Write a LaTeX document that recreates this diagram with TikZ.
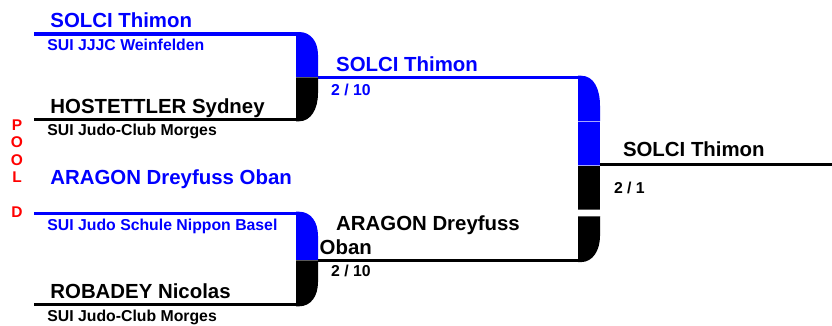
\documentclass[tikz,border=0pt]{standalone}
\usepackage{fontspec}
\setmainfont{Liberation Sans}
\usetikzlibrary{positioning}

\begin{document}
\begin{tikzpicture}[x=1pt,y=-1pt,line cap=butt]
  \tikzstyle{fighter}=[anchor=base west,inner sep=0pt,font=\fontsize{20.4}{24}\selectfont\bfseries]
  \tikzstyle{club}=[anchor=base west,inner sep=0pt,font=\fontsize{15.8}{18}\selectfont\bfseries]
  \tikzstyle{score}=[club]
  \tikzstyle{pool}=[anchor=base,inner sep=0pt,text=red,font=\fontsize{15.5}{18}\selectfont\bfseries]
  \tikzstyle{bar}=[line width=3.6pt]
  \tikzstyle{seam}=[line width=1pt,black!65]
  \tikzstyle{lightseam}=[line width=1pt,blue!35!white]

  \useasboundingbox (0,0) rectangle (832,325);

  % end points of the bracket lines
  \coordinate (a1) at (34,33.8);   \coordinate (a2) at (296,33.8);
  \coordinate (b1) at (34,119.5);  \coordinate (b2) at (296,119.5);
  \coordinate (c1) at (34,213.5);  \coordinate (c2) at (296,213.5);
  \coordinate (d1) at (34,304.5);  \coordinate (d2) at (296,304.5);
  \coordinate (ab1) at (318,77.5); \coordinate (ab2) at (578,77.5);
  \coordinate (cd1) at (318,260.3);\coordinate (cd2) at (578,260.3);
  \coordinate (w1) at (600,164.3); \coordinate (w2) at (832,164.3);

  \draw[bar,blue]  (a1) -- (a2);
  \draw[bar,black] (b1) -- (b2);
  \draw[bar,blue]  (c1) -- (c2);
  \draw[bar,black] (d1) -- (d2);
  \draw[bar,blue]  (ab1) -- (ab2);
  \draw[bar,black] (cd1) -- (cd2);
  \draw[bar,black] (w1) -- (w2);

  % first round joins
  \fill[blue]  (296,32) -- (299,32) .. controls (311,32) and (318,42) .. (318,55) -- (318,77) -- (296,77) -- cycle;
  \fill[black] (296,77) -- (318,77) -- (318,93) .. controls (318,109) and (311,121.3) .. (299,121.3) -- (296,121.3) -- cycle;
  \draw[seam]  (296,77.5) -- (318,77.5);

  \fill[blue]  (296,211.7) -- (299,211.7) .. controls (311,211.7) and (318,222) .. (318,236) -- (318,260) -- (296,260) -- cycle;
  \fill[black] (296,260) -- (318,260) -- (318,282) .. controls (318,296) and (311,306.3) .. (299,306.3) -- (296,306.3) -- cycle;
  \draw[seam]  (296,260.5) -- (318,260.5);

  % final join
  \fill[blue]  (578,75.7) -- (581,75.7) .. controls (594,75.7) and (600,89) .. (600,106) -- (600,121) -- (578,121) -- cycle;
  \fill[blue]  (578,121) rectangle (600,165);
  \fill[black] (578,165) rectangle (600,209.5);
  \fill[black] (578,216) -- (600,216) -- (600,236) .. controls (600,250) and (593,262.1) .. (581,262.1) -- (578,262.1) -- cycle;
  \draw[lightseam] (578,121.5) -- (600,121.5);
  \draw[lightseam] (578,165.5) -- (600,165.5);
  \draw[seam] (578,209.5) -- (600,209.5);
  \draw[seam] (578,216.5) -- (600,216.5);

  % first round
  \node[fighter,text=blue] (solci)    at (50.2,27.8)  {SOLCI Thimon};
  \node[club,text=blue]    (solciC)   at (47.2,50.6)  {SUI JJJC Weinfelden};
  \node[fighter]           (hostet)   at (50.2,113.2) {HOSTETTLER Sydney};
  \node[club]              (hostetC)  at (47.2,135.6) {SUI Judo-Club Morges};
  \node[fighter,text=blue] (aragon)   at (50.2,184)   {ARAGON Dreyfuss Oban};
  \node[club,text=blue]    (aragonC)  at (47.2,230)   {SUI Judo Schule Nippon Basel};
  \node[fighter]           (robadey)  at (50.2,298.3) {ROBADEY Nicolas};
  \node[club]              (robadeyC) at (47.2,321.6) {SUI Judo-Club Morges};

  % second round
  \node[fighter,text=blue] (solci2)   at (336,71.7)  {SOLCI Thimon};
  \node[score,text=blue]   (solciS)   at (331,95)    {2 / 10};
  \node[fighter]           (aragon2)  at (336,230)   {ARAGON Dreyfuss};
  \node[fighter]           (aragon2b) at (319.5,254) {Oban};
  \node[score]             (aragonS)  at (331,276.7) {2 / 10};

  % final
  \node[fighter]           (winner)   at (622.8,156.7) {SOLCI Thimon};
  \node[score]             (winnerS)  at (613.8,193.3) {2 / 1};

  % pool letters
  \node[pool] (p1) at (17,130)   {P};
  \node[pool] (p2) at (17,147.5) {O};
  \node[pool] (p3) at (17,165)   {O};
  \node[pool] (p4) at (17,182.5) {L};
  \node[pool] (p5) at (17,217.5) {D};
\end{tikzpicture}
\end{document}
